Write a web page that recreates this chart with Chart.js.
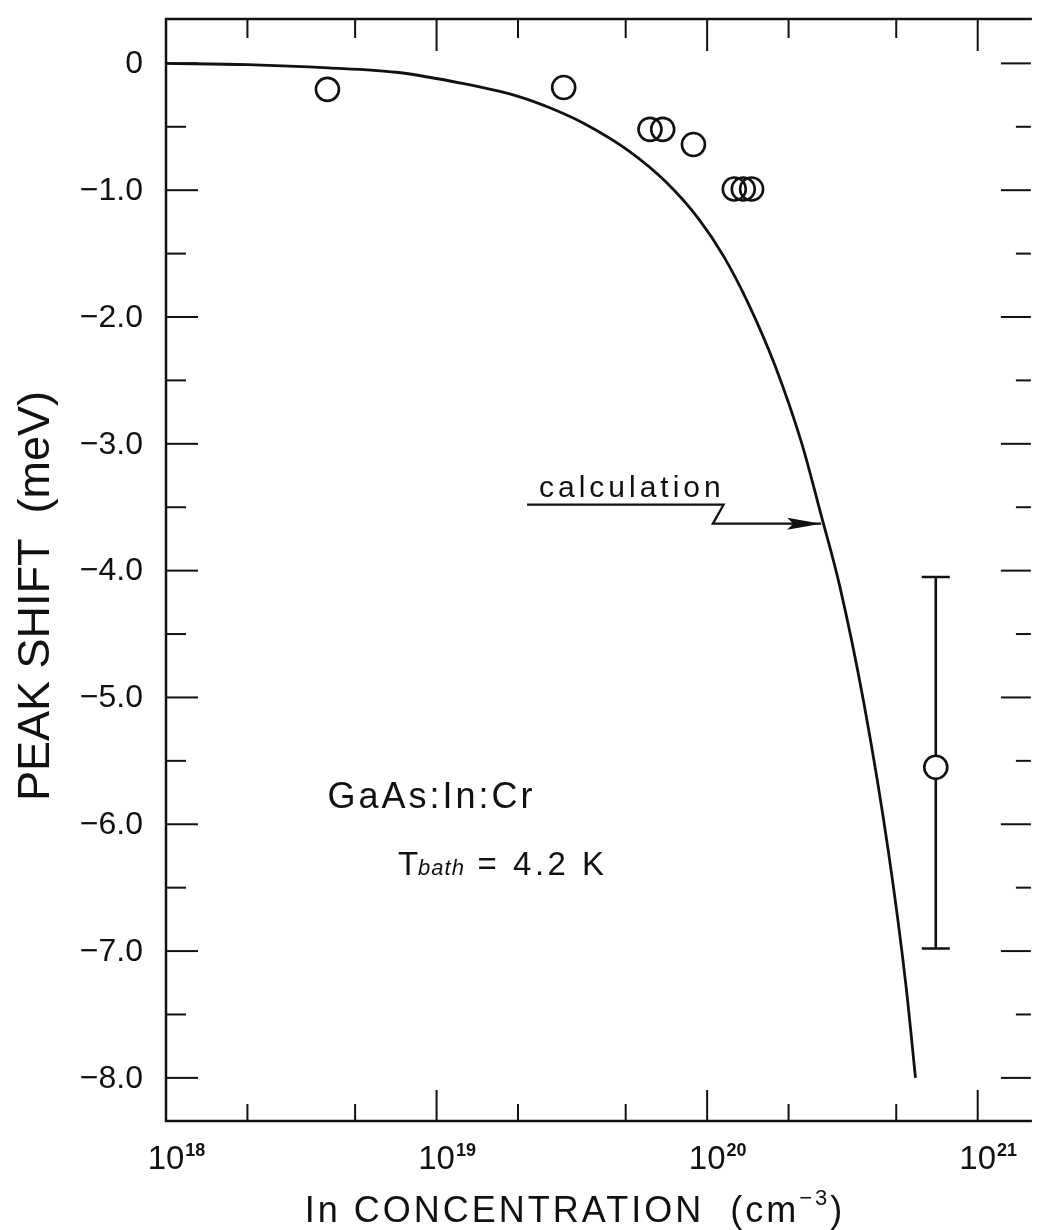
<!DOCTYPE html>
<html>
<head>
<meta charset="utf-8">
<script src="https://cdn.jsdelivr.net/npm/chart.js@4.4.0/dist/chart.umd.min.js"></script>
<style>
html,body{margin:0;padding:0;background:#fff;overflow:hidden;}
canvas{display:block;}
</style>
</head>
<body>
<canvas id="c" width="1041" height="1230"></canvas>
<script>
// ---- data ----
const curveX = [1.0e18, 2.0e18, 3.98e18, 7.08e18, 1.26e19, 2.0e19, 2.69e19, 3.55e19, 5.13e19, 7.08e19, 9.33e19, 1.15e20, 1.41e20, 1.78e20, 2.24e20, 2.63e20, 3.09e20, 3.80e20, 4.68e20, 5.43e20, 5.89e20];
const curveY = [0.0, -0.01, -0.035, -0.07, -0.16, -0.26, -0.36, -0.48, -0.69, -0.94, -1.23, -1.52, -1.88, -2.38, -3.00, -3.55, -4.12, -5.05, -6.22, -7.27, -8.0];
const measX = [3.95e18, 2.95e19, 6.15e19, 6.85e19, 8.9e19, 1.26e20, 1.36e20, 1.46e20];
const measY = [-0.205, -0.19, -0.52, -0.52, -0.64, -0.99, -0.99, -0.99];
const errPointX = [7.0e20];
const errPointY = [-5.55];
const errLow = [-6.98];
const errHigh = [-4.05];

const yMajorTicks = [0, -1, -2, -3, -4, -5, -6, -7, -8];
const yMinorTicks = [-0.5, -1.5, -2.5, -3.5, -4.5, -5.5, -6.5, -7.5];
const yTickLabels = ['0', '\u22121.0', '\u22122.0', '\u22123.0', '\u22124.0', '\u22125.0', '\u22126.0', '\u22127.0', '\u22128.0'];
const xMajorTicks = [1e18, 1e19, 1e20, 1e21];
const xMinorTicks = [2e18, 5e18, 2e19, 5e19, 2e20, 5e20];
const xTickBase = ['10', '10', '10', '10'];
const xTickExp = ['18', '19', '20', '21'];

const xMin = 1e18, xMax = 1.52e21, yMin = -8.34, yMax = 0.35;

// annotation anchors (data units)
const calcText = 'calculation';
const calcAnchor = [2.39e19, -3.42];
const leaderX = [2.16e19, 1.15e20, 1.05e20, 2.64e20];
const leaderY = [-3.48, -3.48, -3.63, -3.63];
const sampleText = 'GaAs:In:Cr';
const sampleAnchor = [3.95e18, -5.875];
const bathAnchor = [7.2e18, -6.40];

const ink = '#111';
const FONT = '"Liberation Sans", Arial, sans-serif';

const toXY = (xs, ys) => xs.map((v, i) => ({x: v, y: ys[i]}));

const frame = {
  id: 'frame',
  beforeDatasetsDraw(chart) {
    const {ctx, scales: {x, y}} = chart;
    ctx.save();
    ctx.strokeStyle = ink;
    ctx.lineWidth = 2.6;
    errPointX.forEach((v, i) => {
      const px = x.getPixelForValue(v);
      const pl = y.getPixelForValue(errLow[i]);
      const ph = y.getPixelForValue(errHigh[i]);
      ctx.beginPath();
      ctx.moveTo(px, ph); ctx.lineTo(px, pl);
      ctx.moveTo(px - 14, ph); ctx.lineTo(px + 14, ph);
      ctx.moveTo(px - 14, pl); ctx.lineTo(px + 14, pl);
      ctx.stroke();
    });
    ctx.restore();
  },
  afterDraw(chart) {
    const {ctx, chartArea: a, scales: {x, y}} = chart;
    const line = (x1, y1, x2, y2) => { ctx.beginPath(); ctx.moveTo(x1, y1); ctx.lineTo(x2, y2); ctx.stroke(); };
    ctx.save();
    ctx.strokeStyle = ink;
    ctx.fillStyle = ink;
    ctx.lineWidth = 2.5;
    // frame (right side lies just beyond the picture edge)
    ctx.beginPath();
    ctx.moveTo(a.right + 5, a.top);
    ctx.lineTo(a.left, a.top);
    ctx.lineTo(a.left, a.bottom);
    ctx.lineTo(a.right + 5, a.bottom);
    ctx.stroke();
    ctx.lineWidth = 2;
    const rx = a.right + 4;
    yMajorTicks.forEach(v => { const p = y.getPixelForValue(v); line(a.left, p, a.left + 32, p); line(rx, p, rx - 30, p); });
    yMinorTicks.forEach(v => { const p = y.getPixelForValue(v); line(a.left, p, a.left + 20, p); line(rx, p, rx - 15, p); });
    xMajorTicks.forEach(v => { const p = x.getPixelForValue(v); if (p > a.left + 1) { line(p, a.bottom, p, a.bottom - 31); line(p, a.top, p, a.top + 32); } });
    xMinorTicks.forEach(v => { const p = x.getPixelForValue(v); line(p, a.bottom, p, a.bottom - 17); line(p, a.top, p, a.top + 19); });

    // y tick labels
    ctx.font = '32px ' + FONT;
    ctx.textAlign = 'right';
    ctx.textBaseline = 'middle';
    yMajorTicks.forEach((v, i) => ctx.fillText(yTickLabels[i], a.left - 23, y.getPixelForValue(v) + 1));

    // x tick labels with exponents
    ctx.textBaseline = 'alphabetic';
    xMajorTicks.forEach((v, i) => {
      const p = x.getPixelForValue(v);
      ctx.font = '33px ' + FONT;
      ctx.textAlign = 'center';
      const w = ctx.measureText(xTickBase[i]).width;
      ctx.fillText(xTickBase[i], p, a.bottom + 48);
      ctx.font = 'bold 18px ' + FONT;
      ctx.textAlign = 'left';
      ctx.fillText(xTickExp[i], p + w / 2 + 1, a.bottom + 35);
    });

    // y axis title
    ctx.save();
    ctx.translate(a.left - 129, 596);
    ctx.rotate(-Math.PI / 2);
    ctx.font = '45px ' + FONT;
    ctx.textAlign = 'center';
    ctx.textBaseline = 'middle';
    ctx.fillText('PEAK SHIFT  (meV)', 0, 0);
    ctx.restore();

    // x axis title
    ctx.font = '36px ' + FONT;
    ctx.letterSpacing = '3px';
    const t1 = 'In CONCENTRATION  (cm';
    const t3 = ')';
    const w1 = ctx.measureText(t1).width;
    const w3 = ctx.measureText(t3).width;
    ctx.font = '22px ' + FONT;
    const w2 = ctx.measureText('\u22123').width;
    const total = w1 + w2 + w3;
    let sx = 575 - total / 2;
    const by = a.bottom + 101;
    ctx.textAlign = 'left';
    ctx.font = '36px ' + FONT;
    ctx.fillText(t1, sx, by);
    ctx.font = '22px ' + FONT;
    ctx.fillText('\u22123', sx + w1, by - 17);
    ctx.font = '36px ' + FONT;
    ctx.fillText(t3, sx + w1 + w2, by);

    // sample label
    ctx.font = '36px ' + FONT;
    ctx.letterSpacing = '3px';
    ctx.fillText(sampleText, x.getPixelForValue(sampleAnchor[0]), y.getPixelForValue(sampleAnchor[1]));

    // T_bath label
    let bx = x.getPixelForValue(bathAnchor[0]);
    const bby = y.getPixelForValue(bathAnchor[1]);
    ctx.letterSpacing = '1px';
    ctx.font = '33px ' + FONT;
    ctx.fillText('T', bx, bby);
    bx += ctx.measureText('T').width - 1;
    ctx.font = 'italic 22px ' + FONT;
    ctx.fillText('bath', bx, bby);
    bx += ctx.measureText('bath').width;
    ctx.font = '33px ' + FONT;
    ctx.letterSpacing = '3.5px';
    ctx.fillText(' = 4.2 K', bx, bby);

    // calculation label and leader arrow
    ctx.font = '30px ' + FONT;
    ctx.letterSpacing = '4px';
    ctx.fillText(calcText, x.getPixelForValue(calcAnchor[0]), y.getPixelForValue(calcAnchor[1]));
    ctx.letterSpacing = '0px';
    ctx.lineWidth = 2.3;
    ctx.beginPath();
    leaderX.forEach((v, i) => {
      const px = x.getPixelForValue(v), py = y.getPixelForValue(leaderY[i]);
      if (i === 0) ctx.moveTo(px, py); else ctx.lineTo(px, py);
    });
    ctx.stroke();
    const n = leaderX.length - 1;
    const tx = x.getPixelForValue(leaderX[n]), ty = y.getPixelForValue(leaderY[n]);
    ctx.beginPath();
    ctx.moveTo(tx, ty);
    ctx.lineTo(tx - 34, ty - 6);
    ctx.lineTo(tx - 28, ty);
    ctx.lineTo(tx - 34, ty + 6);
    ctx.closePath();
    ctx.fill();
    ctx.restore();
  }
};

new Chart(document.getElementById('c'), {
  type: 'scatter',
  data: {
    datasets: [
      {
        type: 'line',
        label: 'calculation',
        data: toXY(curveX, curveY),
        borderColor: ink,
        borderWidth: 2.8,
        pointRadius: 0,
        fill: false,
        cubicInterpolationMode: 'monotone',
        order: 3
      },
      {
        label: 'measured',
        data: toXY(measX, measY),
        showLine: false,
        pointRadius: 11.5,
        pointBorderWidth: 2.6,
        pointBorderColor: ink,
        pointBackgroundColor: 'rgba(0,0,0,0)',
        order: 2
      },
      {
        label: 'measured (error bar)',
        data: toXY(errPointX, errPointY),
        showLine: false,
        pointRadius: 11.5,
        pointBorderWidth: 2.6,
        pointBorderColor: ink,
        pointBackgroundColor: '#fff',
        order: 1
      }
    ]
  },
  options: {
    responsive: false,
    animation: false,
    devicePixelRatio: 1,
    layout: {padding: {left: 166, top: 19, right: 0, bottom: 109}},
    plugins: {legend: {display: false}, tooltip: {enabled: false}},
    scales: {
      x: {type: 'logarithmic', min: xMin, max: xMax, display: false},
      y: {type: 'linear', min: yMin, max: yMax, display: false}
    }
  },
  plugins: [frame]
});
</script>
</body>
</html>
